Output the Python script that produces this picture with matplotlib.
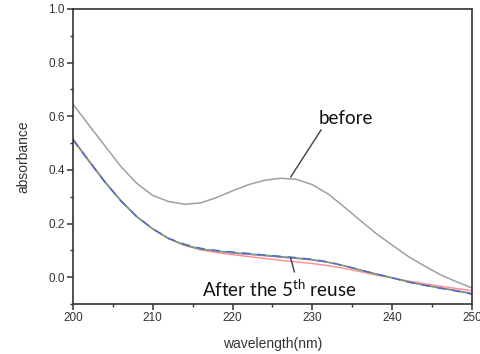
import matplotlib
matplotlib.use("Agg")
import matplotlib.pyplot as plt
from matplotlib.ticker import MultipleLocator

plt.rcParams['mathtext.fontset'] = 'custom'
plt.rcParams['mathtext.rm'] = 'Lato'

wavelength = [200, 202, 204, 206, 208, 210, 212, 214, 216, 218, 220, 222, 224,
              226, 228, 230, 232, 234, 236, 238, 240, 242, 244, 246, 248, 250]

before = [0.645, 0.567, 0.490, 0.413, 0.350, 0.305, 0.282, 0.272, 0.277, 0.297,
          0.322, 0.345, 0.361, 0.369, 0.365, 0.345, 0.310, 0.262, 0.212, 0.163,
          0.120, 0.078, 0.043, 0.010, -0.016, -0.040]

reuse_red = [0.516, 0.435, 0.357, 0.286, 0.226, 0.180, 0.143, 0.118, 0.102, 0.092,
             0.084, 0.077, 0.070, 0.063, 0.057, 0.051, 0.043, 0.033, 0.021, 0.008,
             -0.003, -0.014, -0.024, -0.033, -0.042, -0.050]
reuse_magenta = [0.515, 0.434, 0.356, 0.286, 0.226, 0.180, 0.144, 0.120, 0.105, 0.097,
                 0.090, 0.085, 0.080, 0.075, 0.070, 0.064, 0.055, 0.042, 0.027, 0.012,
                 -0.002, -0.017, -0.029, -0.039, -0.049, -0.060]
reuse_green = [0.512, 0.432, 0.354, 0.284, 0.225, 0.180, 0.144, 0.120, 0.105, 0.098,
               0.092, 0.087, 0.082, 0.077, 0.072, 0.066, 0.056, 0.043, 0.027, 0.012,
               -0.002, -0.018, -0.030, -0.041, -0.051, -0.063]
reuse_blue = [0.513, 0.433, 0.355, 0.285, 0.226, 0.181, 0.145, 0.123, 0.108, 0.100,
              0.094, 0.089, 0.083, 0.078, 0.073, 0.067, 0.057, 0.043, 0.027, 0.012,
              -0.002, -0.018, -0.030, -0.041, -0.051, -0.063]

fig = plt.figure(figsize=(4.8, 3.54), dpi=100)
ax = fig.add_axes([0.152, 0.1412, 0.831, 0.8334])

ax.plot(wavelength, before, color='#a0a0a0', lw=1.1)
ax.plot(wavelength, reuse_red, color='#ff8c8c', lw=1.0)
ax.plot(wavelength, reuse_magenta, color='#c060c0', lw=1.0)
ax.plot(wavelength, reuse_green, color='#6aa86a', lw=1.0)
ax.plot(wavelength, reuse_blue, color='#4a6ad0', lw=1.0, dashes=[6, 5])

ax.set_xlim(200, 250)
ax.set_ylim(-0.1, 1.0)
ax.xaxis.set_major_locator(MultipleLocator(10))
ax.xaxis.set_minor_locator(MultipleLocator(5))
ax.yaxis.set_major_locator(MultipleLocator(0.2))
ax.yaxis.set_minor_locator(MultipleLocator(0.1))
ax.yaxis.set_major_formatter(matplotlib.ticker.FormatStrFormatter('%.1f'))

for s in ax.spines.values():
    s.set_color('#333333')
    s.set_linewidth(1.2)

ax.tick_params(which='major', direction='out', length=4, width=1.1, color='#333333',
               labelsize=8.5, labelcolor='#333333', pad=2)
ax.tick_params(which='minor', direction='out', length=2.5, width=1.0, color='#333333')
for lab in ax.get_xticklabels() + ax.get_yticklabels():
    lab.set_family('Liberation Sans')

ax.set_xlabel('wavelength(nm)', fontsize=10, family='Liberation Sans', color='#333333', labelpad=9)
ax.set_ylabel('absorbance', fontsize=10, family='Liberation Sans', color='#333333', labelpad=13)

ax.plot([227.3, 231.1], [0.374, 0.549], color='#404040', lw=1.0)
ax.text(234.2, 0.593, 'before', fontsize=13.5, family='Lato', ha='center', va='center', color='#111111')

ax.plot([227.3, 227.75], [0.07, 0.02], color='#404040', lw=1.0)
ax.text(225.9, -0.045, r'After the 5$^{\mathrm{th}}$ reuse', fontsize=13.5, family='Lato',
        ha='center', va='center', color='#111111')

fig.savefig('out.png', dpi=100)
